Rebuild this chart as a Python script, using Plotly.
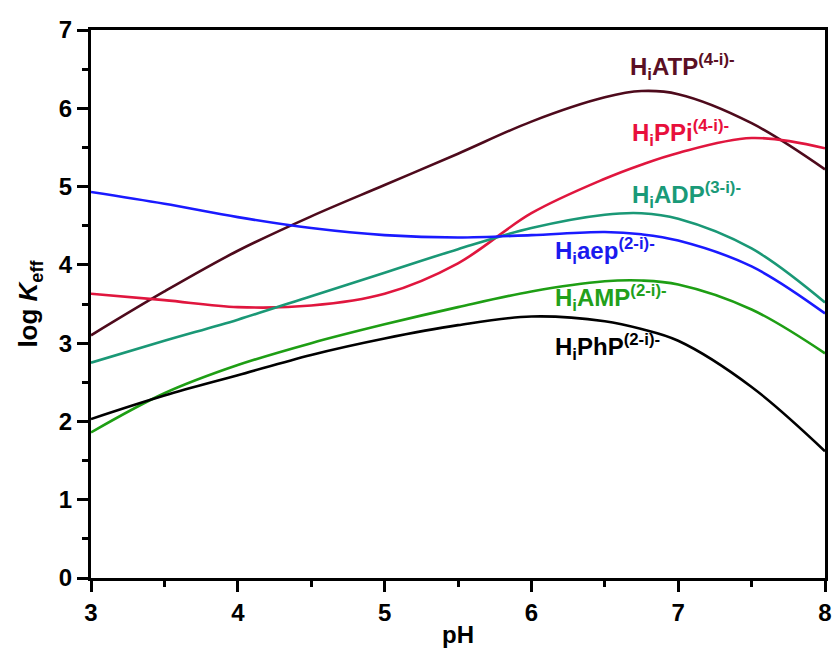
import plotly.graph_objects as go

# pH grid shared by all species
ph = [3.0, 3.5, 4.0, 4.5, 5.0, 5.5, 6.0, 6.5, 6.75, 7.0, 7.5, 8.0]

# log K_eff for each ligand family
logk_atp = [3.10, 3.66, 4.18, 4.62, 5.02, 5.42, 5.83, 6.14, 6.22, 6.18, 5.81, 5.22]
logk_ppi = [3.63, 3.55, 3.46, 3.48, 3.63, 4.02, 4.66, 5.10, 5.28, 5.43, 5.62, 5.49]
logk_adp = [2.75, 3.03, 3.30, 3.60, 3.90, 4.20, 4.47, 4.64, 4.66, 4.59, 4.21, 3.52]
logk_aep = [4.93, 4.78, 4.61, 4.47, 4.38, 4.35, 4.38, 4.42, 4.39, 4.31, 3.98, 3.38]
logk_amp = [1.86, 2.36, 2.72, 3.00, 3.24, 3.46, 3.66, 3.79, 3.80, 3.75, 3.43, 2.87]
logk_php = [2.03, 2.33, 2.59, 2.85, 3.06, 3.23, 3.34, 3.28, 3.18, 3.03, 2.44, 1.62]

series_names = ["H<sub>i</sub>ATP<sup>(4-i)-</sup>",
                "H<sub>i</sub>PPi<sup>(4-i)-</sup>",
                "H<sub>i</sub>ADP<sup>(3-i)-</sup>",
                "H<sub>i</sub>aep<sup>(2-i)-</sup>",
                "H<sub>i</sub>AMP<sup>(2-i)-</sup>",
                "H<sub>i</sub>PhP<sup>(2-i)-</sup>"]
series_values = [logk_atp, logk_ppi, logk_adp, logk_aep, logk_amp, logk_php]
line_colors = ["#4e0a1c", "#e0163e", "#1a9876", "#1a1aff", "#1e9e14", "#000000"]
label_colors = ["#5a0f24", "#e8103c", "#1a9a78", "#1a1aee", "#22a01a", "#000000"]
# label anchor (pH, log K) for each curve name
label_x = [6.66, 6.67, 6.67, 6.15, 6.15, 6.15]
label_y = [6.53, 5.68, 4.89, 4.18, 3.58, 2.95]

FONT = "Arial, 'Liberation Sans', sans-serif"

fig = go.Figure()
for name, vals, col in zip(series_names, series_values, line_colors):
    fig.add_trace(go.Scatter(x=ph, y=vals, mode="lines", name=name,
                             line=dict(color=col, width=2.6, shape="spline",
                                       smoothing=1.0)))

for name, lx, ly, col in zip(series_names, label_x, label_y, label_colors):
    fig.add_annotation(x=lx, y=ly, text=name, showarrow=False,
                       xanchor="left", yanchor="middle",
                       font=dict(family=FONT, size=24, color=col, weight="bold"))

axis_common = dict(showline=True, linecolor="black", linewidth=3, mirror=True,
                   ticks="outside", ticklen=11, tickwidth=2.5, tickcolor="black",
                   showgrid=False, zeroline=False,
                   tickfont=dict(family=FONT, size=24, color="black", weight="bold"))

fig.update_xaxes(range=[3, 8], dtick=1, tick0=3,
                 minor=dict(ticks="outside", ticklen=6, tickwidth=2.5,
                            tickcolor="black", dtick=0.5, showgrid=False),
                 title=dict(text="pH", standoff=2,
                            font=dict(family=FONT, size=24, color="black", weight="bold")),
                 **axis_common)
fig.update_yaxes(range=[0, 7], dtick=1, tick0=0,
                 minor=dict(ticks="outside", ticklen=6, tickwidth=2.5,
                            tickcolor="black", dtick=0.5, showgrid=False),
                 title=dict(text="log <i>K</i><sub>eff</sub>", standoff=14,
                            font=dict(family=FONT, size=26, color="black", weight="bold")),
                 **axis_common)

fig.update_layout(width=838, height=653, showlegend=False,
                  paper_bgcolor="white", plot_bgcolor="white",
                  margin=dict(l=91, r=6, t=30, b=75))

fig.write_html("out.html")
